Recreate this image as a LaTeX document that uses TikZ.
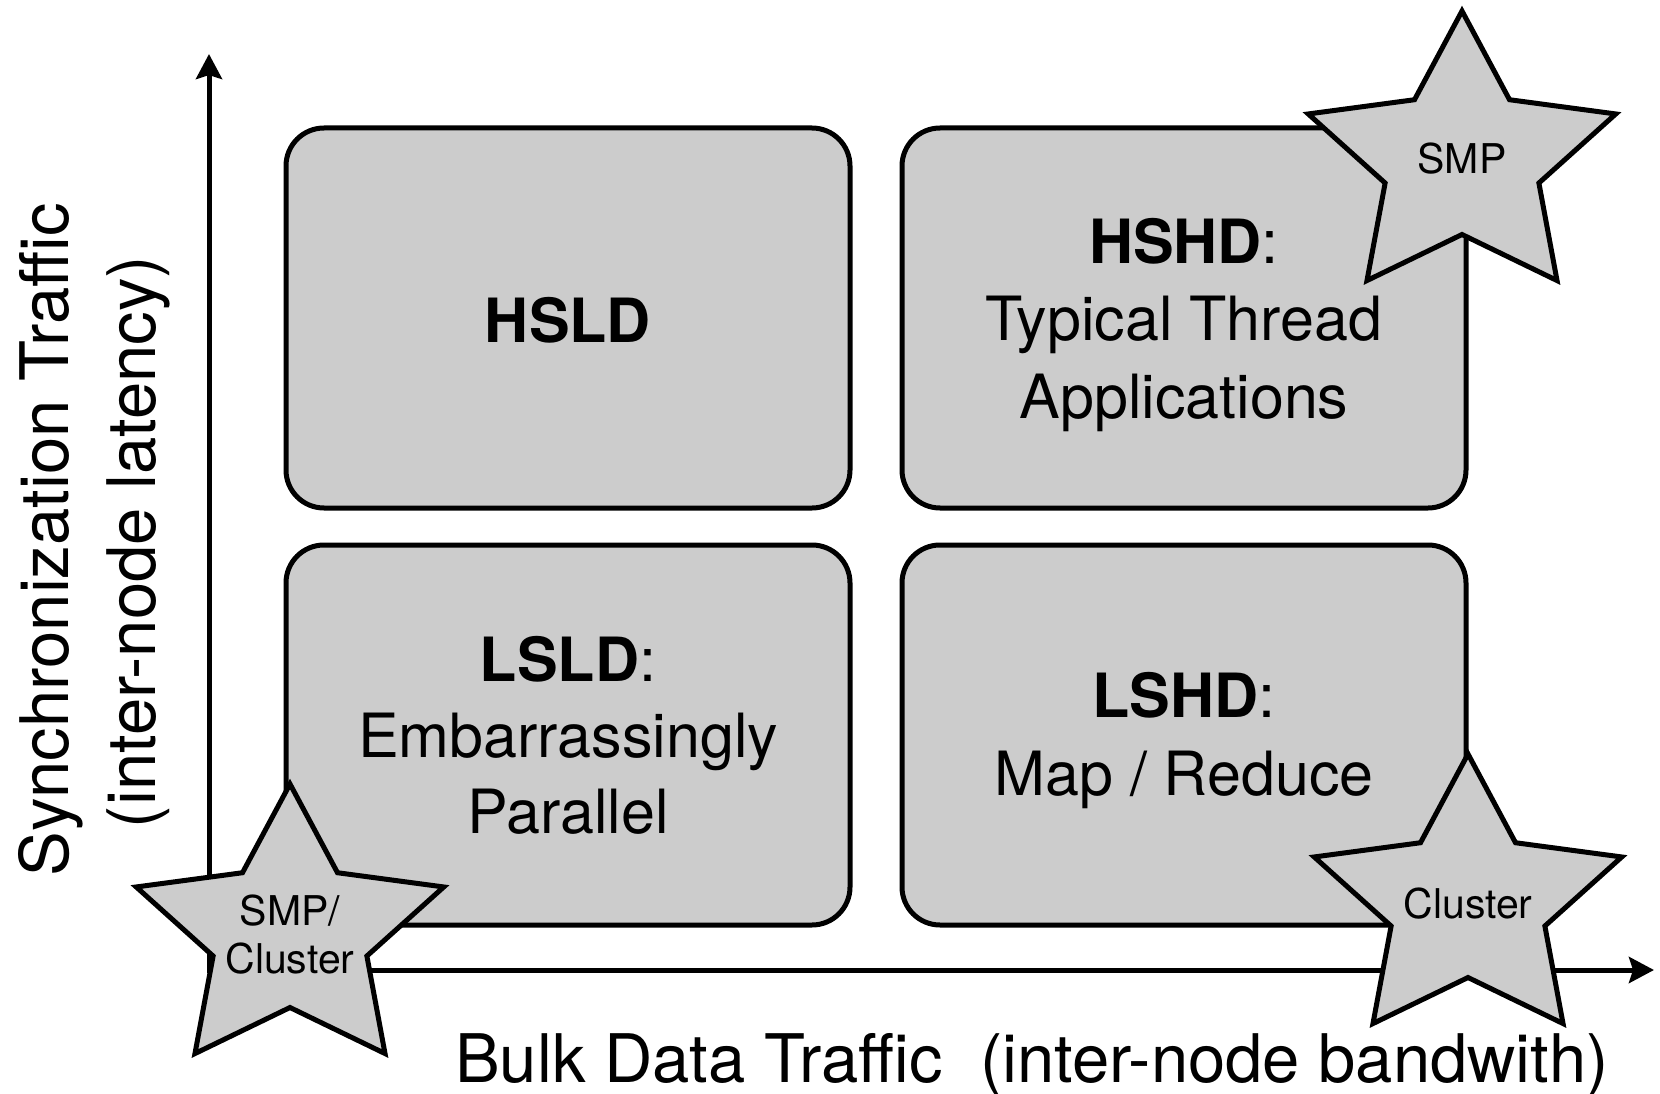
\documentclass[tikz,border=0pt]{standalone}
\usepackage{fontspec}
\setmainfont{TeX Gyre Heros}
\usetikzlibrary{shapes.geometric,arrows.meta}
\definecolor{panel}{RGB}{204,204,204}
\begin{document}
\begin{tikzpicture}[x=1pt,y=-1pt,
  quad/.style={draw, line width=5pt, fill=panel, rounded corners=38pt,
    minimum width=564pt, minimum height=380pt, inner sep=0pt},
  badge/.style={star, star points=5, star point ratio=2, minimum size=298pt,
    inner sep=0pt, draw, line width=5pt, fill=panel, xscale=1.085, transform shape},
  big/.style={font=\fontsize{61}{72}\selectfont, anchor=base, inner sep=0pt},
  small/.style={font=\fontsize{41}{48}\selectfont, anchor=base, inner sep=0pt},
  axislabel/.style={font=\fontsize{67}{80}\selectfont, anchor=base, inner sep=0pt},
  axis/.style={line width=5pt, {Stealth[length=25pt,width=26pt,inset=4pt]}-{Stealth[length=25pt,width=26pt,inset=4pt]}}
]
\useasboundingbox (0,0) rectangle (1660,1094);

% quadrant panels
\node[quad] (hsld) at (568,318) {};
\node[quad] (hshd) at (1184,318) {};
\node[quad] (lsld) at (568,735) {};
\node[quad] (lshd) at (1184,735) {};

% quadrant captions
\node[big] (hsld-1) at (568,342) {\bfseries HSLD};

\node[big] (hshd-1) at (1184,263) {\textbf{HSHD}:};
\node[big] (hshd-2) at (1184,340) {Typical Thread};
\node[big] (hshd-3) at (1184,418) {Applications};

\node[big] (lsld-1) at (568,681) {\textbf{LSLD}:};
\node[big] (lsld-2) at (568,757) {Embarrassingly};
\node[big] (lsld-3) at (568,833) {Parallel};

\node[big] (lshd-1) at (1184,717) {\textbf{LSHD}:};
\node[big] (lshd-2) at (1184,795) {Map / Reduce};

% axes
\coordinate (ytip) at (209,54);
\coordinate (origin) at (209,970);
\coordinate (xtip) at (1654,970);
\draw[axis] (ytip) |- (xtip);

% axis labels
\node[axislabel] (xlabel) at (1032,1082) {Bulk Data Traffic\ \ (inter-node bandwith)};
\node[axislabel, rotate=90] (ylabel-1) at (68,540) {Synchronization Traffic};
\node[axislabel, rotate=90] (ylabel-2) at (155,542) {(inter-node latency)};

% system stars
\node[badge] (smp) at (1462,160) {};
\node[small] (smp-t) at (1462,174) {SMP};

\node[badge] (mixed) at (290,933) {};
\node[small] (mixed-1) at (290,925) {SMP/};
\node[small] (mixed-2) at (290,973) {Cluster};

\node[badge] (cluster) at (1468,903) {};
\node[small] (cluster-t) at (1468,918) {Cluster};
\end{tikzpicture}
\end{document}
